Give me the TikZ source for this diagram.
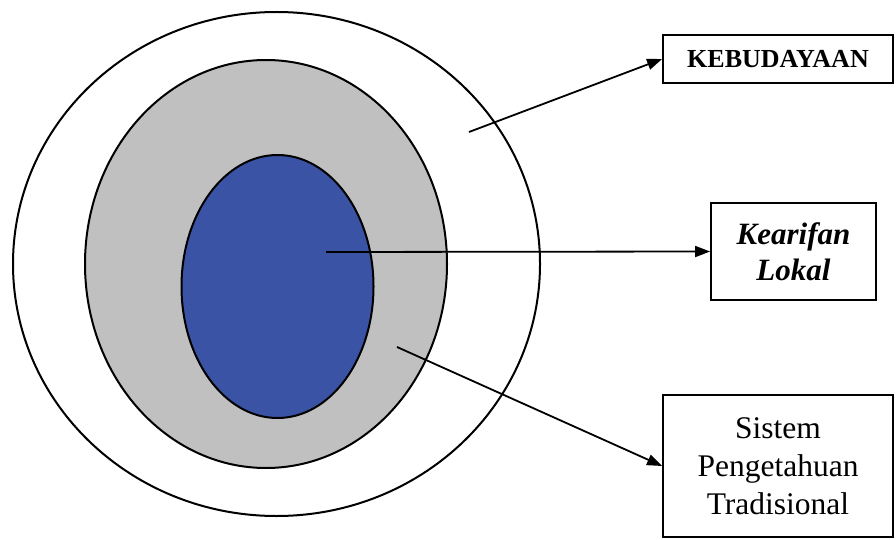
\documentclass[tikz,border=0pt]{standalone}
\usepackage{fontspec}
\setmainfont{Liberation Serif}
\usetikzlibrary{arrows.meta}
\definecolor{ringgray}{HTML}{C0C0C0}
\definecolor{coreblue}{HTML}{3A53A4}
\tikzset{
  ring/.style={draw=black, line width=2pt},
  labelbox/.style={draw=black, line width=1.8pt, fill=white, inner sep=0pt, align=center},
  pointer/.style={line width=1.8pt, -{Triangle[length=15pt,width=11pt]}}
}
\begin{document}
\begin{tikzpicture}[x=1pt,y=-1pt]
\useasboundingbox (0,0) rectangle (896,540);
% rings
\draw[ring, fill=white] (276.5,264) ellipse [x radius=263.5, y radius=252];
\draw[ring, fill=ringgray] (266,264) ellipse [x radius=181, y radius=204];
\draw[ring, fill=coreblue] (277.5,286.5) ellipse [x radius=96, y radius=131.5];
% arrow starts
\coordinate (sKeb) at (469,132);
\coordinate (sKea) at (326,252);
\coordinate (sSis) at (397,347);
% boxes
\node[labelbox, minimum width=230pt, minimum height=48pt, font=\fontsize{26}{31}\selectfont\bfseries] (keb) at (778,59) {KEBUDAYAAN};
\node[labelbox, minimum width=165pt, minimum height=97pt, font=\fontsize{31}{36}\selectfont\bfseries\itshape] (kea) at (793.5,251.5) {Kearifan\\Lokal};
\node[labelbox, minimum width=230pt, minimum height=142pt, font=\fontsize{31.5}{38}\selectfont] (sis) at (778,466) {Sistem\\Pengetahuan\\Tradisional};
% arrows
\draw[pointer] (sKeb) -- (keb.west);
\draw[pointer] (sKea) -- (kea.west);
\draw[pointer] (sSis) -- (sis.west);
\end{tikzpicture}
\end{document}
